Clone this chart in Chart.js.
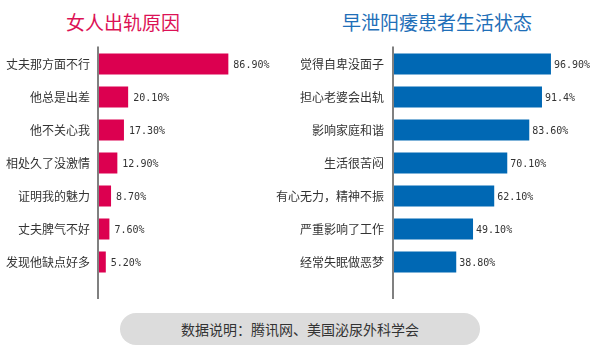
<!doctype html>
<html lang="zh">

<head>
    <meta charset="utf-8">
    <title>女人出轨原因 / 早泄阳痿患者生活状态</title>
    <script src="https://cdn.jsdelivr.net/npm/chart.js@4/dist/chart.umd.min.js"></script>
    <style>
        body { margin: 0; width: 600px; height: 350px; background: #fff; position: relative; overflow: hidden; font-family: "Noto Sans CJK SC", sans-serif; }
        .titulo { position: absolute; top: 11px; font-size: 19px; line-height: 22px; text-align: center; }
        #titulo1 { left: 0; width: 246px; color: #dc1256; }
        #titulo2 { left: 337px; width: 200px; color: #1f6fb8; }
        .caja { position: absolute; top: 0; height: 300px; }
        #caja1 { left: 0; width: 300px; }
        /* el segundo lienzo empieza antes para que la etiqueta larga no se corte */
        #caja2 { left: 250px; width: 350px; }
        #fuente { position: absolute; left: 120px; top: 313px; width: 360px; height: 32px; line-height: 32px;
                  border-radius: 16px; background: #dcdcdc; color: #333; font-size: 14px; text-align: center; }
    </style>
</head>

<body>

    <div class="titulo" id="titulo1">女人出轨原因</div>
    <div class="titulo" id="titulo2">早泄阳痿患者生活状态</div>
    <div class="caja" id="caja1"><canvas id="chart1" width="300" height="300"></canvas></div>
    <div class="caja" id="caja2"><canvas id="chart2" width="350" height="300"></canvas></div>
    <div id="fuente">数据说明：腾讯网、美国泌尿外科学会</div>

    <script>
        // razones (izquierda)
        var etiquetas1 = ['丈夫那方面不行', '他总是出差', '他不关心我', '相处久了没激情', '证明我的魅力', '丈夫脾气不好', '发现他缺点好多'];
        var valores1 = [86.9, 20.1, 17.3, 12.9, 8.7, 7.6, 5.2];
        var textos1 = ['86.90%', '20.10%', '17.30%', '12.90%', '8.70%', '7.60%', '5.20%'];

        // estado de vida (derecha)
        var etiquetas2 = ['觉得自卑没面子', '担心老婆会出轨', '影响家庭和谐', '生活很苦闷', '有心无力，精神不振', '严重影响了工作', '经常失眠做恶梦'];
        var valores2 = [96.9, 91.4, 83.6, 70.1, 62.1, 49.1, 38.8];
        var textos2 = ['96.90%', '91.4%', '83.60%', '70.10%', '62.10%', '49.10%', '38.80%'];

        // linea gris del eje, un poco mas larga que el area
        var lineaEje = {
            id: 'lineaEje',
            afterDraw: function (chart) {
                var a = chart.chartArea, ctx = chart.ctx;
                ctx.save();
                ctx.strokeStyle = '#808080';
                ctx.lineWidth = 2;
                ctx.beginPath();
                ctx.moveTo(a.left, a.top - 1);
                ctx.lineTo(a.left, a.bottom + 20.5);
                ctx.stroke();
                ctx.restore();
            }
        };

        // porcentaje al final de cada barra
        var textoValor = {
            id: 'textoValor',
            afterDatasetsDraw: function (chart, args, opts) {
                var ctx = chart.ctx;
                var barras = chart.getDatasetMeta(0).data;
                ctx.save();
                ctx.font = '10px "DejaVu Sans Mono"';
                ctx.fillStyle = '#333';
                ctx.textBaseline = 'middle';
                ctx.textAlign = 'left';
                barras.forEach(function (b, i) {
                    ctx.fillText(opts.textos[i], b.x + opts.sep, b.y + 1);
                });
                ctx.restore();
            }
        };

        function crear(id, etiquetas, valores, textos, color, anchoEje, sepTick, padDer, sep) {
            return new Chart(document.getElementById(id).getContext('2d'), {
                type: 'bar',
                data: {
                    labels: etiquetas,
                    datasets: [{
                        data: valores,
                        backgroundColor: color,
                        barPercentage: 0.64,
                        categoryPercentage: 1
                    }]
                },
                options: {
                    indexAxis: 'y',
                    responsive: false,
                    animation: false,
                    layout: { padding: { top: 47.5, bottom: 21.5, left: 0, right: padDer } },
                    plugins: {
                        legend: { display: false },
                        tooltip: { enabled: false },
                        textoValor: { textos: textos, sep: sep }
                    },
                    scales: {
                        x: { display: false, min: 0, max: 100 },
                        y: {
                            grid: { display: false, drawTicks: false },
                            border: { display: false },
                            ticks: { color: '#333', padding: sepTick, font: { family: '"Noto Sans CJK SC"', size: 12 } },
                            afterFit: function (s) { s.width = anchoEje; }
                        }
                    }
                },
                plugins: [lineaEje, textoValor]
            });
        }

        crear('chart1', etiquetas1, valores1, textos1, '#dc0050', 98, 8, 52, 5);
        crear('chart2', etiquetas2, valores2, textos2, '#0068b4', 143, 9, 44, 3);
    </script>

</body>

</html>
